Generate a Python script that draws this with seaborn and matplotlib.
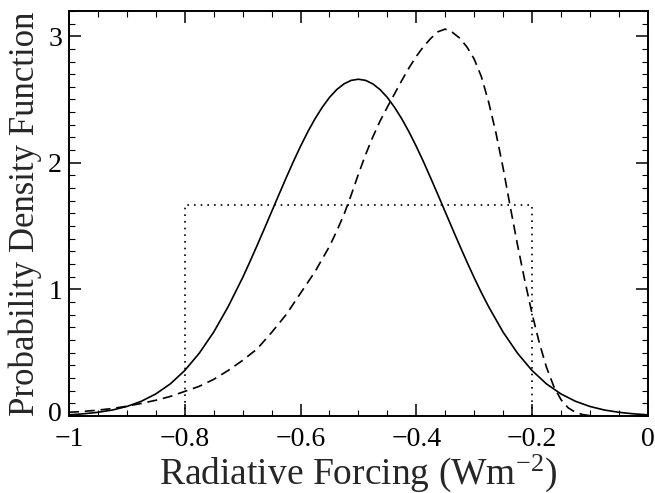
import matplotlib
matplotlib.use('Agg')
import matplotlib.pyplot as plt
import matplotlib.transforms as mtransforms
from matplotlib.ticker import MultipleLocator
import seaborn as sns

# solid curve
solid_x = [-1.0, -0.975, -0.95, -0.925, -0.9, -0.875, -0.85, -0.825, -0.8, -0.775,
           -0.75, -0.725, -0.7, -0.6875, -0.675, -0.6625, -0.65, -0.6375, -0.625, -0.6125,
           -0.6, -0.5875, -0.575, -0.5625, -0.55, -0.5375, -0.525, -0.5125, -0.5, -0.4875,
           -0.475, -0.4625, -0.45, -0.4375, -0.425, -0.4125, -0.4, -0.3875, -0.375, -0.3625,
           -0.35, -0.3375, -0.325, -0.3125, -0.3, -0.2875, -0.275, -0.25, -0.225, -0.2,
           -0.175, -0.15, -0.125, -0.1, -0.075, -0.05, -0.025, 0.0]
solid_y = [0.010, 0.018, 0.030, 0.048, 0.076, 0.117, 0.175, 0.254, 0.360, 0.496,
           0.663, 0.864, 1.093, 1.218, 1.347, 1.479, 1.613, 1.747, 1.879, 2.008,
           2.130, 2.244, 2.347, 2.438, 2.516, 2.578, 2.623, 2.651, 2.660, 2.651,
           2.623, 2.578, 2.516, 2.438, 2.347, 2.244, 2.130, 2.008, 1.879, 1.747,
           1.613, 1.479, 1.347, 1.218, 1.093, 0.975, 0.864, 0.663, 0.496, 0.360,
           0.254, 0.175, 0.117, 0.076, 0.048, 0.030, 0.018, 0.010]

# dashed curve
dashed_x = [-1.0, -0.975, -0.95, -0.925, -0.9, -0.875, -0.85, -0.825, -0.8, -0.775,
            -0.75, -0.725, -0.7, -0.675, -0.65, -0.625, -0.6, -0.575, -0.55, -0.5375,
            -0.525, -0.5125, -0.5, -0.4875, -0.475, -0.4625, -0.45, -0.4375, -0.425, -0.4125,
            -0.4, -0.3875, -0.375, -0.3625, -0.35, -0.3375, -0.325, -0.3125, -0.3, -0.2875,
            -0.275, -0.2625, -0.25, -0.2375, -0.225, -0.2125, -0.2, -0.1875, -0.175, -0.1625,
            -0.15, -0.1375, -0.125, -0.1125, -0.1, -0.085]
dashed_y = [0.030, 0.037, 0.047, 0.060, 0.078, 0.100, 0.125, 0.155, 0.195, 0.235,
            0.290, 0.360, 0.440, 0.530, 0.660, 0.800, 0.970, 1.140, 1.340, 1.460,
            1.590, 1.745, 1.910, 2.065, 2.205, 2.330, 2.440, 2.545, 2.650, 2.750,
            2.840, 2.918, 2.982, 3.035, 3.056, 3.030, 2.985, 2.915, 2.820, 2.680,
            2.480, 2.240, 1.960, 1.650, 1.350, 1.070, 0.810, 0.580, 0.385, 0.235,
            0.130, 0.065, 0.030, 0.012, 0.004, 0.0]

# dotted uniform box
box_x = [-0.8, -0.8, -0.2, -0.2]
box_y = [0.0, 1.667, 1.667, 0.0]

sns.set_theme(style='ticks')
plt.rcParams['font.family'] = ['Liberation Serif', 'DejaVu Serif']
plt.rcParams['mathtext.default'] = 'regular'

fig = plt.figure(figsize=(6.55, 4.93), dpi=100)
ax = fig.add_axes([0.1053, 0.156, 0.8837, 0.822])

sns.lineplot(x=solid_x, y=solid_y, ax=ax, color='black', lw=1.2,
             estimator=None, sort=False)
sns.lineplot(x=dashed_x, y=dashed_y, ax=ax, color='black', lw=1.2,
             estimator=None, sort=False, linestyle=(0, (6, 3.5)))
sns.lineplot(x=box_x, y=box_y, ax=ax, color='black', lw=1.2,
             estimator=None, sort=False, linestyle=(0, (1, 3)))

ax.set_xlim(-1, 0)
ax.set_ylim(0, 3.2)
ax.xaxis.set_minor_locator(MultipleLocator(0.05))
ax.set_yticks([0, 1, 2, 3])
ax.yaxis.set_minor_locator(MultipleLocator(0.1))
ax.set_xticks([-1, -0.8, -0.6, -0.4, -0.2, 0])
ax.set_xticklabels(['\u22121', '\u22120.8', '\u22120.6', '\u22120.4', '\u22120.2', '0'])

ax.tick_params(which='both', direction='in', top=True, right=True, colors='black')
ax.tick_params(which='major', length=8.5, width=1.1, labelsize=20)
ax.tick_params(which='minor', length=4, width=0.8)
ax.tick_params(axis='x', which='major', pad=8)
ax.tick_params(axis='y', which='major', pad=5)
for s in ax.spines.values():
    s.set_linewidth(1.4)
    s.set_color('black')

ax.set_xlabel('Radiative Forcing (Wm$^{-2}$)', fontsize=27, labelpad=0)
ax.set_ylabel('Probability Density Function', fontsize=25, labelpad=4)

# the "0" on the y axis sits a little above its tick, clear of the "-1"
fig.canvas.draw()
for t in ax.yaxis.get_major_ticks():
    if abs(t.get_loc()) < 1e-9:
        lab = t.label1
        lab.set_transform(lab.get_transform() +
                          mtransforms.ScaledTranslation(-0.5 / 72, 3.5 / 72,
                                                        fig.dpi_scale_trans))

fig.savefig('out.png', dpi=100)
